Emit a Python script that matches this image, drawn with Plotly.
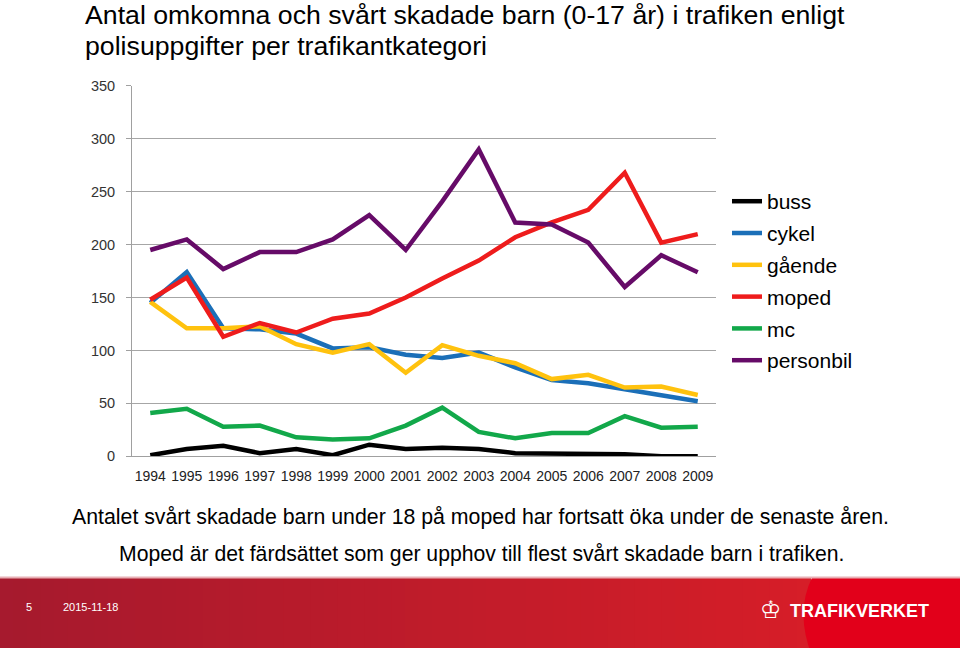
import plotly.graph_objects as go

years = list(range(1994, 2010))
buss = [1, 7, 10, 3, 7, 1, 11, 7, 8, 7, 3, 3, 3, 2, 0, 0]
cykel = [145, 174, 121, 120, 116, 102, 103, 96, 93, 98, 84, 72, 69, 63, 58, 52]
gaende = [146, 121, 121, 123, 106, 98, 106, 79, 105, 95, 88, 73, 77, 65, 66, 58]
moped = [148, 169, 113, 126, 117, 130, 135, 150, 168, 185, 207, 221, 233, 268, 202, 210]
mc = [41, 45, 28, 29, 18, 16, 17, 29, 46, 23, 17, 22, 22, 38, 27, 28]
personbil = [195, 205, 177, 193, 193, 205, 228, 195, 241, 290, 221, 219, 202, 160, 190, 174]

series = [
    ("buss", buss, "#000000"),
    ("cykel", cykel, "#1B6FB8"),
    ("gående", gaende, "#FFC20E"),
    ("moped", moped, "#EE1C1C"),
    ("mc", mc, "#12A84A"),
    ("personbil", personbil, "#660B68"),
]

title_lines = ["Antal omkomna och svårt skadade barn (0-17 år) i trafiken enligt",
               "polisuppgifter per trafikantkategori"]
note_lines = ["Antalet svårt skadade barn under 18 på moped har fortsatt öka under de senaste åren.",
              "Moped är det färdsättet som ger upphov till flest svårt skadade barn i trafiken."]
footer_page = "5"
footer_date = "2015-11-18"
brand = "TRAFIKVERKET"

W, H = 960, 664
FONT = "Liberation Sans, Arial, sans-serif"

fig = go.Figure()
for i, (name, vals, col) in enumerate(series):
    fig.add_trace(go.Scatter(x=years, y=vals, name=name, mode="lines",
                             line=dict(color=col, width=4.5),
                             legendgroup=f"g{i}"))

def px_x(p):
    return p / W

def px_y(p):
    page = (p - 8.1) / 0.975
    return 1 - page / H

shapes = []
n = 60
c0 = (166, 26, 46)
c1 = (214, 30, 40)
for k in range(n):
    xa = 810 * k / n
    xb = 810 * (k + 1) / n + 1
    t = k / (n - 1)
    c = tuple(int(c0[j] + (c1[j] - c0[j]) * t) for j in range(3))
    shapes.append(dict(type="rect", xref="paper", yref="paper",
                       x0=px_x(xa), x1=px_x(xb), y0=0, y1=px_y(577),
                       fillcolor=f"rgb{c}", line=dict(width=0), layer="above"))
shapes.append(dict(type="path", xref="paper", yref="paper",
                   path=f"M {px_x(812)} {px_y(577)} Q {px_x(795)} {px_y(612)} {px_x(812)} 0 L 1 0 L 1 {px_y(577)} Z",
                   fillcolor="#E2001A", line=dict(width=0), layer="above"))
shapes.append(dict(type="rect", xref="paper", yref="paper", x0=0, x1=1,
                   y0=px_y(578), y1=px_y(576), fillcolor="#E8B0B5",
                   line=dict(width=0), layer="above"))

annotations = []
for i, t in enumerate(title_lines):
    annotations.append(dict(text=t, x=px_x(83), y=px_y(15 + 31 * i), xref="paper", yref="paper",
                            xanchor="left", yanchor="middle", showarrow=False,
                            font=dict(family=FONT, size=26.7, color="#000000")))
annotations.append(dict(text=note_lines[0], x=px_x(70), y=px_y(517), xref="paper", yref="paper",
                        xanchor="left", yanchor="middle", showarrow=False,
                        font=dict(family=FONT, size=21.3, color="#000000")))
annotations.append(dict(text=note_lines[1], x=px_x(117), y=px_y(554), xref="paper", yref="paper",
                        xanchor="left", yanchor="middle", showarrow=False,
                        font=dict(family=FONT, size=21.2, color="#000000")))
annotations.append(dict(text=footer_page, x=px_x(24), y=px_y(607), xref="paper", yref="paper",
                        xanchor="left", yanchor="middle", showarrow=False,
                        font=dict(family=FONT, size=11, color="#FFFFFF")))
annotations.append(dict(text=footer_date, x=px_x(61), y=px_y(607), xref="paper", yref="paper",
                        xanchor="left", yanchor="middle", showarrow=False,
                        font=dict(family=FONT, size=11, color="#FFFFFF")))
annotations.append(dict(text="<b>♔</b>", x=px_x(758), y=px_y(610), xref="paper", yref="paper",
                        xanchor="left", yanchor="middle", showarrow=False,
                        font=dict(family="DejaVu Sans", size=24, color="#FFFFFF")))
annotations.append(dict(text="<b>" + brand + "</b>", x=px_x(788), y=px_y(611), xref="paper", yref="paper",
                        xanchor="left", yanchor="middle", showarrow=False,
                        font=dict(family=FONT, size=18, color="#FFFFFF")))

fig.update_layout(
    width=W, height=H,
    margin=dict(l=0, r=0, t=0, b=0),
    paper_bgcolor="#FFFFFF", plot_bgcolor="#FFFFFF",
    font=dict(family=FONT, color="#000000"),
    showlegend=True,
    legend=dict(x=px_x(727), y=px_y(181), xanchor="left", yanchor="top",
                font=dict(family=FONT, size=21, color="#000000"),
                itemwidth=30, tracegroupgap=1.5, bgcolor="rgba(0,0,0,0)"),
    xaxis=dict(domain=[px_x(132), px_x(716)], range=[1993.5, 2009.5],
               tickmode="array", tickvals=years, ticktext=[str(y) for y in years],
               showgrid=False, zeroline=False, showline=True, linecolor="#A0A0A0", linewidth=1,
               ticks="", ticklabelstandoff=7,
               tickfont=dict(family=FONT, size=14, color="#222222"), fixedrange=True),
    yaxis=dict(domain=[px_y(456), px_y(86)], range=[0, 350], tickvals=list(range(0, 351, 50)),
               showgrid=True, gridcolor="#A6A6A6", gridwidth=1, zeroline=False,
               showline=True, linecolor="#A0A0A0", linewidth=1,
               ticks="outside", ticklen=5, tickcolor="#A0A0A0", ticklabelstandoff=8,
               tickfont=dict(family=FONT, size=14.5, color="#333333"), fixedrange=True),
    shapes=shapes,
    annotations=annotations,
)

fig.write_html("out.html", config={"displayModeBar": False},
               post_script="document.body.style.margin='0';document.body.style.overflow='hidden';")
